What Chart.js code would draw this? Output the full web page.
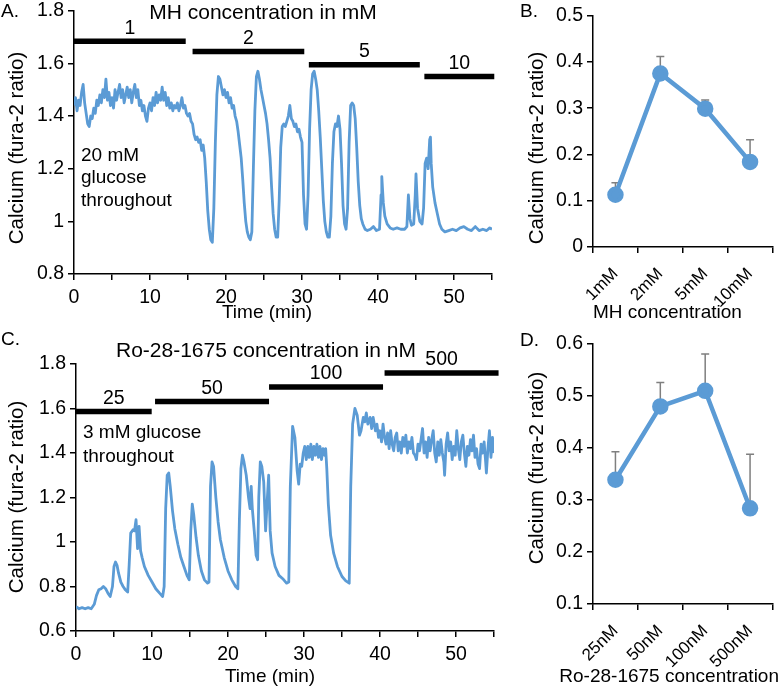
<!DOCTYPE html>
<html>
<head>
<meta charset="utf-8">
<script src="https://cdn.jsdelivr.net/npm/chart.js@4.4.1/dist/chart.umd.min.js"></script>
<style>
  html, body { margin: 0; padding: 0; background: #fff; overflow: hidden; }
  #wrap { position: relative; width: 783px; height: 687px; overflow: hidden; background: #fff; }
  canvas { position: absolute; }
</style>
</head>
<body>
<div id="wrap">
  <canvas id="chA" width="500" height="335" style="left:0px;top:-5px"></canvas>
  <canvas id="chB" width="263" height="330" style="left:520px;top:0px"></canvas>
  <canvas id="chC" width="502" height="362" style="left:0px;top:330px"></canvas>
  <canvas id="chD" width="263" height="366" style="left:520px;top:326px"></canvas>
</div>
<script>
// ---- A: MH trace (time in min, fura-2 ratio) ----
const tA = [0,0.2,0.4,0.6,0.8,1,1.2,1.4,1.6,1.8,2,2.2,2.4,2.6,2.8,3,3.2,3.4,3.6,3.8,4,4.2,4.4,4.6,4.8,5,5.2,5.4,5.6,5.8,6,6.2,6.4,6.6,6.8,7,7.2,7.4,7.6,7.8,8,8.2,8.4,8.6,8.8,9,9.2,9.4,9.6,9.8,10,10.2,10.4,10.6,10.8,11,11.2,11.4,11.6,11.8,12,12.2,12.4,12.6,12.8,13,13.2,13.4,13.6,13.8,14,14.2,14.4,14.6,14.8,15,15.2,15.4,15.6,15.8,16,16.2,16.4,16.6,16.8,17,17.2,17.4,17.6,17.8,18,18.2,18.4,18.6,18.8,19,19.2,19.4,19.6,19.8,20,20.2,20.4,20.6,20.8,21,21.2,21.4,21.6,21.8,22,22.2,22.4,22.6,22.8,23,23.2,23.4,23.6,23.8,24,24.2,24.4,24.6,24.8,25,25.2,25.4,25.6,25.8,26,26.2,26.4,26.6,26.8,27,27.2,27.4,27.6,27.8,28,28.2,28.4,28.6,28.8,29,29.2,29.4,29.6,29.8,30,30.2,30.4,30.6,30.8,31,31.2,31.4,31.6,31.8,32,32.2,32.4,32.6,32.8,33,33.2,33.4,33.6,33.8,34,34.2,34.4,34.6,34.8,35,35.2,35.4,35.6,35.8,36,36.2,36.4,36.6,36.8,37,37.2,37.4,37.6,37.8,38,38.3,38.6,39,39.4,39.8,40.2,40.4,40.5,40.7,40.9,41.2,41.6,42,42.5,43,43.5,43.8,44,44.2,44.4,44.7,44.9,45,45.2,45.5,45.8,46,46.2,46.4,46.6,46.8,46.9,47,47.2,47.5,47.8,48.1,48.4,48.8,49.3,49.8,50.3,50.8,51.3,51.8,52.3,52.8,53.3,53.8,54.3,54.7,55];
const vA = [1.44,1.47,1.42,1.46,1.44,1.49,1.52,1.45,1.41,1.37,1.36,1.40,1.39,1.43,1.41,1.46,1.44,1.48,1.45,1.50,1.47,1.54,1.46,1.49,1.44,1.47,1.43,1.50,1.46,1.49,1.52,1.47,1.50,1.45,1.48,1.51,1.47,1.50,1.45,1.49,1.52,1.47,1.50,1.44,1.46,1.42,1.44,1.40,1.38,1.43,1.45,1.42,1.47,1.44,1.49,1.45,1.48,1.46,1.51,1.46,1.49,1.44,1.47,1.43,1.45,1.42,1.44,1.43,1.45,1.42,1.44,1.47,1.43,1.44,1.41,1.40,1.41,1.38,1.37,1.33,1.31,1.32,1.30,1.31,1.27,1.29,1.24,1.15,1.04,0.97,0.93,0.92,1.05,1.30,1.48,1.55,1.54,1.51,1.48,1.50,1.47,1.49,1.45,1.47,1.43,1.44,1.40,1.38,1.34,1.29,1.24,1.16,1.07,1.00,0.96,0.94,0.93,0.96,1.20,1.42,1.55,1.57,1.54,1.50,1.47,1.44,1.41,1.37,1.31,1.24,1.13,1.03,0.97,0.94,0.94,1.08,1.28,1.36,1.37,1.36,1.38,1.40,1.44,1.39,1.38,1.36,1.37,1.34,1.35,1.32,1.30,1.10,0.99,0.97,1.10,1.35,1.50,1.56,1.57,1.54,1.50,1.42,1.32,1.20,1.08,1.00,0.96,0.94,0.94,1.02,1.22,1.34,1.37,1.36,1.40,1.35,1.22,1.06,0.99,0.97,1.05,1.30,1.44,1.45,1.44,1.39,1.28,1.15,1.06,1.01,0.99,0.97,0.965,0.97,0.98,0.965,0.97,1.10,1.17,1.07,1.02,0.99,0.975,0.97,0.975,0.97,0.97,0.98,1.10,1.01,0.985,0.99,1.10,1.18,1.05,1.00,0.99,1.05,1.22,1.24,1.20,1.31,1.32,1.22,1.13,1.07,1.03,0.99,0.97,0.96,0.965,0.97,0.965,0.975,0.98,0.97,0.965,0.98,0.965,0.97,0.965,0.975,0.97];
const aBarStart = [0, 15.6, 30.9, 46.1];
const aBarEnd = [14.7, 30.3, 45.5, 55.3];
const aBarLevel = [1.684, 1.645, 1.595, 1.55];
const aBarLabel = ['1', '2', '5', '10'];

// ---- B: MH dose summary ----
const bCats = ['1mM', '2mM', '5mM', '10mM'];
const bMean = [0.113, 0.375, 0.299, 0.184];
const bErr = [0.026, 0.037, 0.019, 0.048];

// ---- C: Ro-28-1675 trace ----
const tC = [0,0.4,0.8,1.2,1.6,2,2.4,2.7,3,3.3,3.6,3.9,4.2,4.5,4.8,5,5.2,5.4,5.6,5.9,6.2,6.5,6.8,7,7.2,7.5,7.7,7.9,8.1,8.3,8.5,8.7,9,9.5,10,10.5,11,11.4,11.6,11.8,12,12.2,12.4,12.7,13,13.4,13.8,14.2,14.6,14.9,15.1,15.3,15.5,15.8,16.1,16.5,16.9,17.3,17.5,17.7,17.9,18.1,18.4,18.7,19,19.5,20,20.5,21,21.3,21.5,21.7,21.9,22.1,22.4,22.7,22.9,23.05,23.2,23.45,23.7,23.9,24.05,24.25,24.45,24.7,24.95,25.15,25.35,25.55,25.8,26.2,26.7,27.2,27.7,28,28.2,28.5,28.8,29.1,29.3,29.5,29.7,29.9,30.1,30.3,30.5,30.7,30.9,31.1,31.3,31.5,31.7,31.9,32.1,32.3,32.5,32.7,32.85,33,33.2,33.5,33.9,34.4,35,35.5,35.95,36.15,36.4,36.7,37,37.3,37.5,37.8,38,38.2,38.4,38.7,38.9,39.1,39.4,39.6,39.8,40,40.2,40.4,40.6,40.8,41,41.2,41.4,41.6,41.8,42,42.2,42.4,42.6,42.8,43,43.2,43.4,43.6,43.8,44,44.2,44.4,44.6,44.8,45,45.2,45.4,45.6,45.8,46,46.2,46.4,46.6,46.8,47,47.2,47.4,47.6,47.8,48,48.2,48.4,48.5,48.7,48.9,49.1,49.3,49.5,49.7,49.9,50.1,50.3,50.5,50.7,50.9,51.1,51.3,51.5,51.7,51.9,52.1,52.3,52.5,52.7,52.9,53.1,53.3,53.5,53.7,53.9,54,54.2,54.4,54.6,54.8,55];
const vC = [0.71,0.70,0.705,0.70,0.705,0.70,0.72,0.76,0.785,0.79,0.80,0.79,0.77,0.755,0.80,0.89,0.91,0.895,0.86,0.82,0.80,0.785,0.775,0.90,1.04,1.055,1.05,1.10,0.97,1.07,0.96,0.93,0.89,0.85,0.82,0.79,0.77,0.755,0.80,1.15,1.30,1.31,1.25,1.14,1.06,0.99,0.93,0.89,0.85,0.83,1.05,1.17,1.12,1.02,0.94,0.87,0.83,0.815,0.82,1.25,1.36,1.34,1.20,1.09,1.01,0.93,0.87,0.83,0.80,0.79,1.10,1.33,1.39,1.36,1.30,1.20,1.15,1.25,1.15,1.05,0.94,0.92,1.20,1.36,1.34,1.27,1.05,1.18,1.30,1.05,0.95,0.89,0.85,0.835,0.815,0.82,1.25,1.52,1.47,1.32,1.26,1.35,1.34,1.40,1.43,1.37,1.43,1.38,1.44,1.37,1.43,1.39,1.44,1.38,1.43,1.37,1.42,1.39,1.42,1.33,1.17,1.03,0.95,0.89,0.845,0.825,0.815,1.25,1.53,1.60,1.57,1.48,1.50,1.56,1.54,1.58,1.53,1.56,1.51,1.56,1.50,1.53,1.47,1.50,1.45,1.53,1.47,1.44,1.49,1.42,1.50,1.44,1.41,1.47,1.49,1.41,1.45,1.40,1.47,1.43,1.48,1.40,1.45,1.42,1.47,1.40,1.39,1.37,1.44,1.41,1.46,1.51,1.40,1.45,1.38,1.47,1.41,1.46,1.50,1.40,1.36,1.45,1.39,1.46,1.40,1.36,1.30,1.44,1.49,1.41,1.45,1.37,1.43,1.39,1.50,1.42,1.37,1.45,1.48,1.40,1.34,1.43,1.39,1.46,1.41,1.48,1.38,1.42,1.35,1.33,1.44,1.40,1.45,1.36,1.31,1.42,1.50,1.38,1.47,1.40];
const cBarStart = [0, 10.4, 25.4, 40.6];
const cBarEnd = [9.96, 25.4, 40.4, 55.6];
const cBarLevel = [1.587, 1.632, 1.697, 1.76];
const cBarLabel = ['25', '50', '100', '500'];

// ---- D: Ro-28-1675 dose summary ----
const dCats = ['25nM', '50nM', '100nM', '500nM'];
const dMean = [0.339, 0.48, 0.51, 0.284];
const dErr = [0.054, 0.046, 0.071, 0.104];

const BLUE = '#5B9BD5';
const FONT = '"Liberation Sans", Arial, sans-serif';
const TICK = 19.5;
Chart.defaults.font.family = FONT;
Chart.defaults.color = '#000';

// draws error bars, bar labels and free text (page coordinates)
const panelText = {
  id: 'panelText',
  beforeDatasetsDraw(chart, args, opts) {
    if (!opts.err) return;
    const ctx = chart.ctx, xs = chart.scales.x, ys = chart.scales.y;
    const vals = chart.data.datasets[0].data;
    ctx.save();
    ctx.strokeStyle = '#7f7f7f';
    ctx.lineWidth = 1.5;
    vals.forEach((v, i) => {
      const px = xs.getPixelForValue(i);
      const y0 = ys.getPixelForValue(v), y1 = ys.getPixelForValue(v + opts.err[i]);
      ctx.beginPath();
      ctx.moveTo(px, y0); ctx.lineTo(px, y1);
      ctx.moveTo(px - 4, y1); ctx.lineTo(px + 4, y1);
      ctx.stroke();
    });
    ctx.restore();
  },
  afterDraw(chart, args, opts) {
    const ctx = chart.ctx;
    const ox = chart.canvas.offsetLeft, oy = chart.canvas.offsetTop;
    ctx.save();
    ctx.fillStyle = '#000';
    if (opts.bars) {
      const xs = chart.scales.x, ys = chart.scales.y, b = opts.bars;
      ctx.font = '19.5px ' + FONT;
      ctx.textAlign = 'center';
      ctx.textBaseline = 'middle';
      b.label.forEach((lab, i) => {
        const cx = (xs.getPixelForValue(b.start[i]) + xs.getPixelForValue(b.end[i])) / 2;
        ctx.fillText(lab, cx, ys.getPixelForValue(b.level[i]) - 13);
      });
    }
    (opts.texts || []).forEach(t => {
      ctx.save();
      ctx.font = (t.size || 19) + 'px ' + FONT;
      ctx.textAlign = t.align || 'left';
      ctx.textBaseline = 'middle';
      ctx.translate(t.x - ox, t.y - oy);
      if (t.rot) ctx.rotate(t.rot * Math.PI / 180);
      ctx.fillText(t.text, 0, 0);
      ctx.restore();
    });
    ctx.restore();
  }
};

function axisY(min, max, step, width) {
  return {
    min, max,
    ticks: { stepSize: step, font: { size: TICK }, padding: 4, callback: v => String(+v.toFixed(2)) },
    grid: { drawOnChartArea: false, color: '#000', lineWidth: 1.5, tickLength: 6 },
    border: { color: '#000', width: 1.5 },
    afterFit: s => { s.width = width; }
  };
}

function traceChart(id, t, v, bs, be, bl, blab, yMin, yWidth, axisH, padTop, texts) {
  const barSets = bs.map((s, i) => ({
    data: [{ x: s, y: bl[i] }, { x: be[i], y: bl[i] }],
    borderColor: '#000', borderWidth: 5.5, borderCapStyle: 'butt',
    pointRadius: 0, clip: false
  }));
  return new Chart(document.getElementById(id), {
    type: 'line',
    data: {
      datasets: [{
        data: t.map((x, i) => ({ x, y: v[i] })),
        borderColor: BLUE, borderWidth: 2.8, pointRadius: 0,
        borderJoinStyle: 'round', tension: 0
      }, ...barSets]
    },
    options: {
      responsive: false, animation: false,
      layout: { padding: { top: padTop, right: 8, left: 0, bottom: 0 } },
      plugins: {
        legend: { display: false }, tooltip: { enabled: false },
        panelText: { bars: { start: bs, end: be, level: bl, label: blab }, texts }
      },
      scales: {
        x: {
          type: 'linear', min: 0, max: 55,
          ticks: { stepSize: 5, autoSkip: false, maxRotation: 0, font: { size: TICK }, padding: 6,
                   callback: val => (val % 10 === 0 ? val : '') },
          grid: { drawOnChartArea: false, color: '#000', lineWidth: 1.5, tickLength: 6 },
          border: { color: '#000', width: 1.5 },
          afterFit: s => { s.height = axisH; }
        },
        y: axisY(yMin, 1.8, 0.2, yWidth)
      }
    },
    plugins: [panelText]
  });
}

function doseChart(id, cats, mean, err, yMin, yMax, axisH, padTop, texts) {
  return new Chart(document.getElementById(id), {
    type: 'line',
    data: {
      labels: cats,
      datasets: [{
        data: mean, borderColor: BLUE, backgroundColor: BLUE,
        borderWidth: 4.5, pointRadius: 6, pointHoverRadius: 6
      }]
    },
    options: {
      responsive: false, animation: false,
      layout: { padding: { top: padTop, right: 4, left: 0, bottom: 0 } },
      plugins: {
        legend: { display: false }, tooltip: { enabled: false },
        panelText: { err, texts }
      },
      scales: {
        x: {
          offset: true,
          ticks: { minRotation: 45, maxRotation: 45, font: { size: 17 }, padding: 11 },
          grid: { offset: true, drawOnChartArea: false, color: '#000', lineWidth: 1.5, tickLength: 6 },
          border: { color: '#000', width: 1.5 },
          afterFit: s => { s.height = axisH; }
        },
        y: axisY(yMin, yMax, 0.1, 73)
      }
    },
    plugins: [panelText]
  });
}

const yTitle = 'Calcium (fura-2 ratio)';

traceChart('chA', tA, vA, aBarStart, aBarEnd, aBarLevel, aBarLabel, 0.8, 74, 56, 12, [
  { text: 'A.', x: 1, y: 12 },
  { text: 'MH concentration in mM', x: 263, y: 13, align: 'center', size: 21 },
  { text: yTitle, x: 17, y: 148, align: 'center', rot: -90, size: 20.5 },
  { text: 'Time (min)', x: 267, y: 313, align: 'center' },
  { text: '20 mM', x: 81, y: 156 },
  { text: 'glucose', x: 81, y: 178 },
  { text: 'throughout', x: 81, y: 201 }
]);

doseChart('chB', bCats, bMean, bErr, 0, 0.5, 83, 12, [
  { text: 'B.', x: 520, y: 12 },
  { text: yTitle, x: 537, y: 148, align: 'center', rot: -90, size: 20.5 },
  { text: 'MH concentration', x: 593, y: 313 }
]);

traceChart('chC', tC, vC, cBarStart, cBarEnd, cBarLevel, cBarLabel, 0.6, 76, 61, 34, [
  { text: 'C.', x: 1, y: 340 },
  { text: 'Ro-28-1675 concentration in nM', x: 266, y: 351, align: 'center', size: 21 },
  { text: yTitle, x: 17, y: 497, align: 'center', rot: -90, size: 20.5 },
  { text: 'Time (min)', x: 270, y: 677, align: 'center' },
  { text: '3 mM glucose', x: 83, y: 433 },
  { text: 'throughout', x: 83, y: 457 }
]);

doseChart('chD', dCats, dMean, dErr, 0.1, 0.6, 88, 18, [
  { text: 'D.', x: 520, y: 341 },
  { text: yTitle, x: 537, y: 468, align: 'center', rot: -90, size: 20.5 },
  { text: 'Ro-28-1675 concentration', x: 779, y: 677, align: 'right' }
]);
</script>
</body>
</html>
